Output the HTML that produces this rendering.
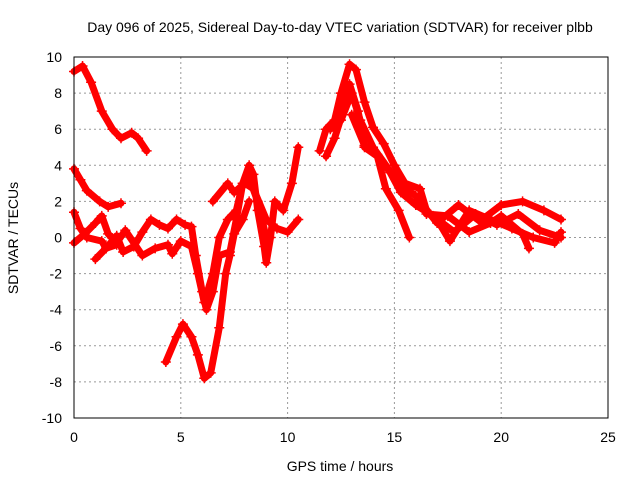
<!DOCTYPE html>
<html><head><meta charset="utf-8"><style>
body{margin:0;background:#fff}
svg text{font-family:"Liberation Sans",sans-serif;font-size:14px;fill:#000}
</style></head><body>
<svg id="chart" width="640" height="480" viewBox="0 0 640 480" xmlns="http://www.w3.org/2000/svg">
<rect width="640" height="480" fill="#fff"/>
<text x="340" y="32" text-anchor="middle">Day 096 of 2025, Sidereal Day-to-day VTEC variation (SDTVAR) for receiver plbb</text>
<g id="grid"></g>
<g id="series"></g>
<rect x="74" y="57" width="534" height="361" fill="none" stroke="#000" stroke-width="1"/>
<g id="ticks"></g>
<text x="340" y="471" text-anchor="middle">GPS time / hours</text>
<text transform="translate(18,238) rotate(-90)" text-anchor="middle">SDTVAR / TECUs</text>
</svg>
<script>
const xTicks=[0,5,10,15,20,25];
const yTicks=[-10,-8,-6,-4,-2,0,2,4,6,8,10];
const sA=[[0,9.2],[0.4,9.5],[0.8,8.6],[1.3,7],[1.8,6],[2.2,5.5],[2.7,5.8],[3.0,5.5],[3.4,4.8]];
const sB=[[0,3.8],[0.3,3.2],[0.6,2.6],[1.2,2.0],[1.6,1.7],[2.2,1.9]];
const sC=[[0,1.4],[0.3,0.5],[0.6,0],[1.3,-0.2],[1.5,-0.6],[2,0.1],[2.3,-0.8],[2.8,-0.5],[3.2,0.3],[3.6,1.0],[4.0,0.7],[4.4,0.5],[4.8,1.0],[5.2,0.7],[5.5,0.6],[5.7,-1],[6.0,-3],[6.2,-4],[6.5,-3],[6.8,-1],[7.3,-0.8],[7.6,1],[7.9,3],[8.2,4],[8.4,3.5],[8.6,1.5],[8.9,-0.5],[9.0,-1.4],[9.2,0],[9.4,2],[9.8,1.5],[10.2,3],[10.5,5]];
const sD=[[0,-0.3],[0.5,0.2],[1.0,0.8],[1.3,1.2],[1.6,0.2],[2.0,-0.3],[2.4,0.4],[3.2,-1],[3.8,-0.6],[4.4,-0.4],[4.6,-0.9],[5.0,-0.2],[5.5,-0.5],[5.8,-2],[6.1,-3.6],[6.5,-2],[6.8,0],[7.2,1],[7.6,1.5],[7.9,3],[8.2,3.3],[8.6,2],[9.0,0]];
const sE=[[4.3,-6.9],[4.8,-5.5],[5.1,-4.8],[5.5,-5.5],[5.8,-6.5],[6.1,-7.8],[6.4,-7.5],[6.8,-5],[7.1,-2],[7.3,-1],[7.5,0.2],[7.9,1],[8.2,2]];
const sF=[[11.5,4.8],[11.8,6],[12.2,6.5],[12.5,8],[12.9,9.6],[13.2,9.3],[13.6,7.5],[14,6.1],[14.5,5.2],[15,4],[15.5,3],[16.2,2.7],[16.5,1.5],[17.2,0.6],[17.6,-0.2],[18.5,1.5],[19.5,1],[20.5,0.5],[21.5,0],[22.5,-0.3],[22.8,0.3]];
const sG=[[11.8,4.5],[12.2,5.5],[12.6,7],[12.9,8.5],[13.3,7],[13.6,5],[14.2,4.5],[14.6,2.7],[15.2,1.5],[15.7,0]];
const sH=[[12.0,6],[12.5,6.5],[13.0,8],[13.4,6.5],[14.0,5],[14.6,4],[15.2,3],[16,2.3],[17,0.8],[18,1.8],[19,0.9],[20,1.8],[21,2],[22,1.5],[22.8,1]];
const sI=[[16.5,1.3],[17.5,1.2],[18.5,0.3],[19.5,0.8],[20,1.2],[21,0.2],[21.3,-0.6]];
const sJ=[[1.0,-1.2],[1.5,-0.6],[2.0,-0.4]];
const sK=[[6.5,2.0],[7.2,3],[7.5,2.5],[8.0,3],[8.4,2.7],[9,1],[9.5,0.5],[10,0.3],[10.5,1]];
const sL=[[13.0,6.8],[13.6,5.1],[14.2,4.6],[14.8,3.6],[15.3,2.5],[16,1.8],[16.8,1.2],[17.8,0.3],[18.8,1.3],[19.8,0.7],[20.8,1.3],[21.8,0.4],[22.8,0]];
const allSeries=[sA,sB,sC,sD,sE,sF,sG,sH,sI,sJ,sK,sL];
const X=h=>74+h*21.36, Y=v=>237.5-v*18.05;
const NS='http://www.w3.org/2000/svg';
const grid=document.getElementById('grid'),ticks=document.getElementById('ticks'),ser=document.getElementById('series');
function mk(tag,a,p){const e=document.createElementNS(NS,tag);for(const k in a)e.setAttribute(k,a[k]);p.appendChild(e);return e;}
xTicks.forEach(t=>{
 if(t>0&&t<25){const g=mk('line',{x1:X(t),x2:X(t),y1:57,y2:418,stroke:'#999','stroke-dasharray':'2,3'},grid);
 
 }
 const l=mk('text',{x:X(t),y:442,'text-anchor':'middle'},ticks);l.textContent=t;
 
 
});
yTicks.forEach(t=>{
 if(t>-10&&t<10){const g=mk('line',{x1:74,x2:608,y1:Y(t),y2:Y(t),stroke:'#999','stroke-dasharray':'2,3'},grid);
 
 }
 const l=mk('text',{x:62,y:Y(t)+5,'text-anchor':'end'},ticks);l.textContent=t;
 
 
});
allSeries.forEach((s,i)=>{
 const p=mk('polyline',{points:s.map(d=>X(d[0])+','+Y(d[1])).join(' '),fill:'none',stroke:'#f00','stroke-width':7,'stroke-linejoin':'round','stroke-linecap':'round'},ser);
 
 
 s.forEach(d=>{const m=mk('path',{d:`M${X(d[0])-5},${Y(d[1])}h10M${X(d[0])},${Y(d[1])-5}v10`,stroke:'#f00','stroke-width':1.5},ser);
 
 });
});
</script>
</body></html>
